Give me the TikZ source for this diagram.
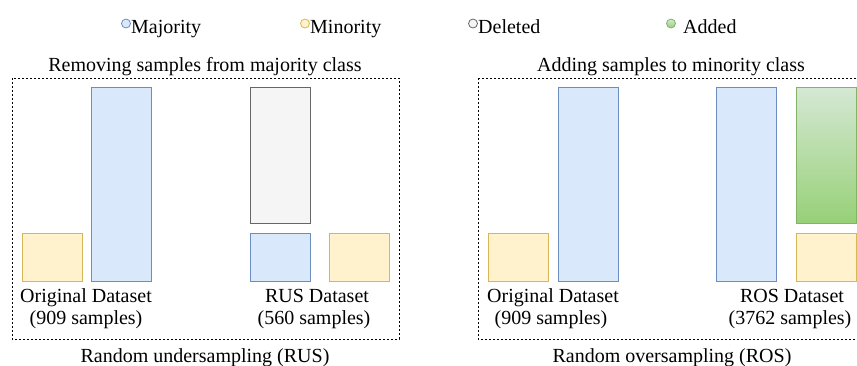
\documentclass[tikz,border=0pt]{standalone}
\usepackage{fontspec}
\setmainfont{Liberation Serif}
\definecolor{bluef}{HTML}{DAE8FC}\definecolor{blued}{HTML}{6C8EBF}
\definecolor{yelf}{HTML}{FFF2CC}\definecolor{yeld}{HTML}{D6B656}
\definecolor{grayf}{HTML}{F5F5F5}\definecolor{grayd}{HTML}{666666}
\definecolor{greent}{HTML}{D5E8D4}\definecolor{greenb}{HTML}{97D077}\definecolor{greend}{HTML}{82B366}
\begin{document}
\begin{tikzpicture}[x=1pt,y=-1pt,
  bar/.style={rectangle,inner sep=0pt,anchor=north west,line width=0.9pt},
  maj/.style={bar,draw=blued,fill=bluef},
  mino/.style={bar,draw=yeld,fill=yelf},
  del/.style={bar,draw=grayd,fill=grayf},
  add/.style={bar,draw=greend,top color=greent,bottom color=greenb},
  lbl/.style={inner sep=0pt,anchor=base,font=\fontsize{20}{24}\selectfont},
  dot/.style={circle,inner sep=0pt,minimum size=9pt,line width=0.8pt},
  frame/.style={draw=black,dashed,dash pattern=on 2pt off 2pt,line width=0.8pt}]
\useasboundingbox (0,0) rectangle (857,365);
\clip (0,0) rectangle (857,365);
% legend
\node[dot,draw=blued,fill=bluef] (l1) at (126,23.5) {};
\node[lbl,anchor=base west] (t1) at (131,33) {Majority};
\node[dot,draw=yeld,fill=yelf] (l2) at (305,23.5) {};
\node[lbl,anchor=base west] (t2) at (310,33) {Minority};
\node[dot,draw=grayd,fill=grayf] (l3) at (473,23.5) {};
\node[lbl,anchor=base west] (t3) at (478,33) {Deleted};
\node[dot,draw=greend,top color=greent,bottom color=greenb] (l4) at (671,23.5) {};
\node[lbl,anchor=base west] (t4) at (683,33) {Added};
% left panel
\node[lbl] (h1) at (205,71) {Removing samples from majority class};
\draw[frame] (12,78) rectangle (399,339);
\node[mino,minimum width=60pt,minimum height=48pt] (a1) at (22,233) {};
\node[maj,minimum width=60pt,minimum height=194pt] (a2) at (91,87) {};
\node[del,minimum width=60pt,minimum height=136pt] (a3) at (250,87) {};
\node[maj,minimum width=60pt,minimum height=48pt] (a4) at (250,233) {};
\node[mino,minimum width=60pt,minimum height=48pt] (a5) at (329,233) {};
\node[lbl] (o1) at (86,302) {Original Dataset};
\node[lbl] (o2) at (86,324) {(909 samples)};
\node[lbl] (r1) at (317,302) {RUS Dataset};
\node[lbl] (r2) at (314,324) {(560 samples)};
\node[lbl] (f1) at (205,362) {Random undersampling (RUS)};
% right panel
\node[lbl] (h2) at (671,71) {Adding samples to minority class};
\draw[frame] (478,78) rectangle (870,339);
\node[mino,minimum width=60pt,minimum height=48pt] (b1) at (488,233) {};
\node[maj,minimum width=60pt,minimum height=194pt] (b2) at (558,87) {};
\node[maj,minimum width=60pt,minimum height=194pt] (b3) at (716,87) {};
\node[add,minimum width=60pt,minimum height=136pt] (b4) at (796,87) {};
\node[mino,minimum width=60pt,minimum height=48pt] (b5) at (796,233) {};
\node[lbl] (p1) at (553,302) {Original Dataset};
\node[lbl] (p2) at (551,324) {(909 samples)};
\node[lbl] (s1) at (792,302) {ROS Dataset};
\node[lbl] (s2) at (790,324) {(3762 samples)};
\node[lbl] (f2) at (672,362) {Random oversampling (ROS)};
\end{tikzpicture}
\end{document}
